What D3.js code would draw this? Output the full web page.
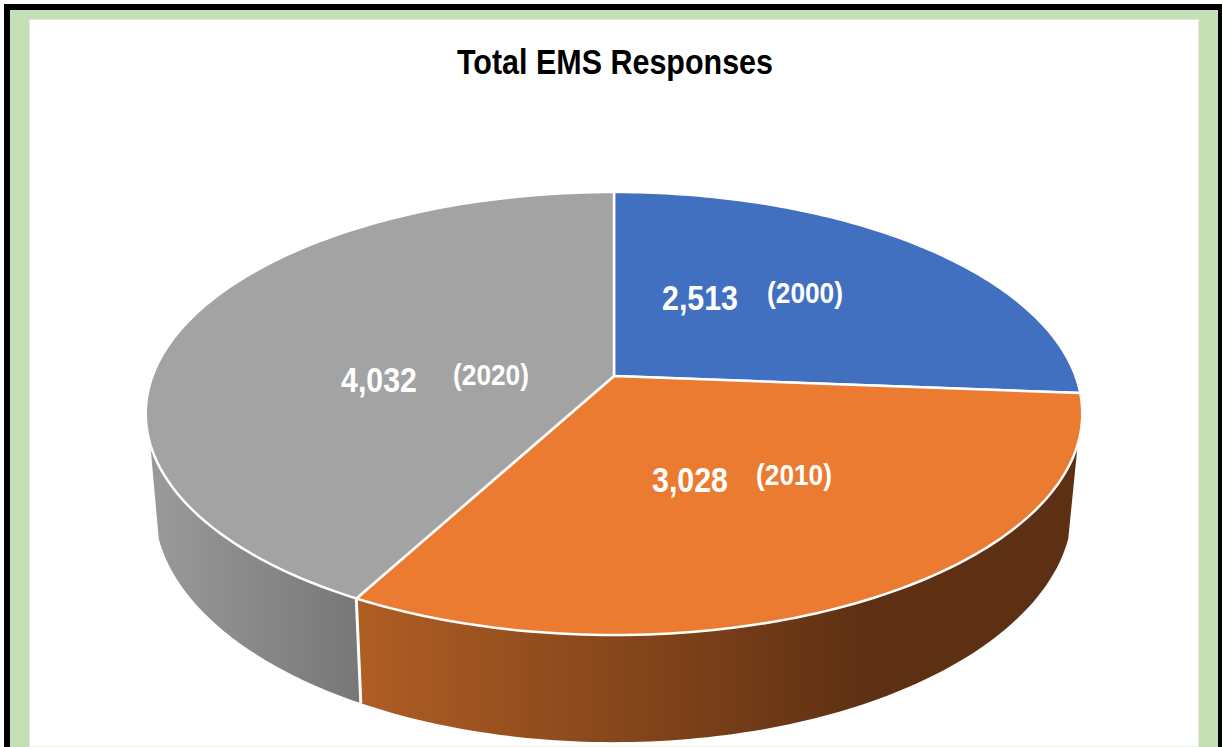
<!DOCTYPE html>
<html><head><meta charset="utf-8">
<script src="https://cdn.jsdelivr.net/npm/d3@7/dist/d3.min.js"></script>
<style>html,body{margin:0;padding:0;background:#fff;overflow:hidden}svg{display:block}</style>
</head><body><svg id="c" width="1222" height="747"></svg>
<script>
const years = ["2000","2010","2020"];
const values = [2513,3028,4032];
const valueLabels = ["2,513","3,028","4,032"];
const topColors = ["#4270C1","#EA7B31","#A3A3A3"];
const sideLeft = ["#4270C1","#B05E24","#9A9A9A"];
const sideRight = ["#4270C1","#5E3013","#777777"];

const svg = d3.select("#c");
const FONT = "'Liberation Sans',Arial,sans-serif";
svg.append("rect").attr("x",4).attr("y",4).attr("width",1218).attr("height",743).attr("fill","#000");
svg.append("rect").attr("x",10).attr("y",10).attr("width",1208).attr("height",737).attr("fill","#C5E0B4");
svg.append("rect").attr("x",29).attr("y",19).attr("width",1170).attr("height",727).attr("fill","#E4E6E2");
svg.append("rect").attr("x",29).attr("y",746).attr("width",1170).attr("height",1).attr("fill","#EEF5E8");
svg.append("rect").attr("x",30).attr("y",20).attr("width",1168).attr("height",726).attr("fill","#fff");

function label(txt,x,y,size,len,fill){
  svg.append("text").attr("x",x).attr("y",y).attr("text-anchor","middle")
    .attr("font-family",FONT).attr("font-weight",700).attr("font-size",size).attr("fill",fill)
    .attr("textLength",len).attr("lengthAdjust","spacingAndGlyphs").text(txt);
}
label("Total EMS Responses",615,74,35,316,"#000");

// perspective projection of a unit-circle disc
const C = 0.1693, CX = 614;
const top_ = {cx:CX, a:461.5, y0:376, p:-151.5};
const bot_ = {cx:613.5, a:452.5, y0:466.5, p:-150};
const proj = (f,t)=>{const u=Math.sin(t),v=Math.cos(t),w=1+C*v;return [f.cx+f.a*u/w,(f.y0+f.p*v)/w];};

const pie = d3.pie().sort(null).value(d=>d)(values);
const defs = svg.append("defs");
const samples = (s,e)=>d3.range(0,101).map(i=>s+(e-s)*i/100);
const rad = d3.scaleLinear().domain([0,360]).range([0,2*Math.PI]);

// side walls: near part of the rim, cut at the silhouette angles
const sideRanges = [null,[rad(107.5),pie[1].endAngle],[pie[2].startAngle,rad(252.5)]];
const gradEnd = [null,870,null];
const line = d3.line();
[2,1].forEach(i=>{
  const r = sideRanges[i];
  const ts = samples(r[0],r[1]);
  const pts = ts.map(t=>proj(top_,t)).concat(ts.slice().reverse().map(t=>proj(bot_,t)));
  const xs = d3.extent(pts,d=>d[0]);
  const id="g"+i;
  const g=defs.append("linearGradient").attr("id",id).attr("gradientUnits","userSpaceOnUse")
    .attr("x1",xs[0]).attr("x2",gradEnd[i]||xs[1]).attr("y1",0).attr("y2",0);
  g.append("stop").attr("offset",0).attr("stop-color",sideLeft[i]);
  g.append("stop").attr("offset",1).attr("stop-color",sideRight[i]);
  svg.append("path").attr("d",line(pts)+"Z").attr("fill",`url(#${id})`);
});
// white edge between the walls
{
  const t=pie[1].endAngle;
  svg.append("path").attr("d",line([proj(top_,t),proj(bot_,t)])).attr("stroke","#fff").attr("stroke-width",3).attr("fill","none");
}
// top faces
pie.forEach((d,i)=>{
  const pts=[[CX,top_.y0]].concat(samples(d.startAngle,d.endAngle).map(t=>proj(top_,t)));
  svg.append("path").attr("d",line(pts)+"Z").attr("fill",topColors[i])
    .attr("stroke","#fff").attr("stroke-width",2.5).attr("stroke-linejoin","round");
});
const labelPos=[[700,310,805,303],[690,492,794,485],[379,392,491,385]];
years.forEach((y,i)=>{
  const p=labelPos[i];
  label(valueLabels[i],p[0],p[1],35,76,"#fff");
  label("("+y+")",p[2],p[3],30,76,"#fff");
});
</script></body></html>
